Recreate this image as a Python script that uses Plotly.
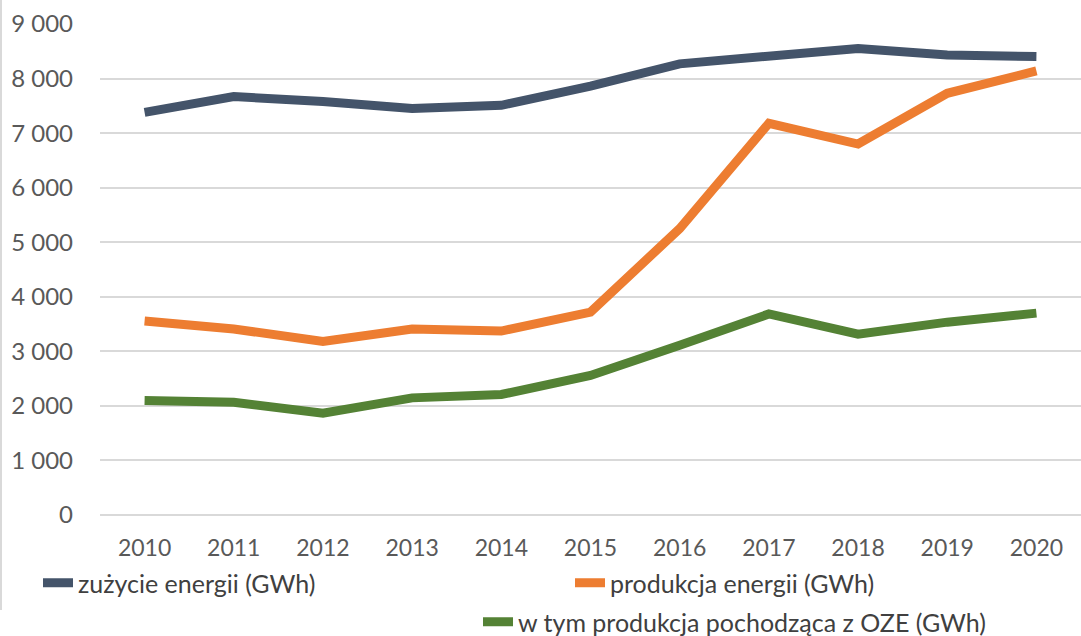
import plotly.graph_objects as go

years = ["2010", "2011", "2012", "2013", "2014", "2015", "2016", "2017", "2018", "2019", "2020"]
zuzycie = [7380, 7670, 7580, 7450, 7510, 7860, 8270, 8390, 8550, 8430, 8405]
produkcja = [3555, 3410, 3180, 3410, 3372, 3720, 5250, 7180, 6800, 7730, 8140]
oze = [2098, 2065, 1865, 2147, 2209, 2558, 3110, 3685, 3315, 3535, 3700]

names = ["zużycie energii (GWh)", "produkcja energii (GWh)", "w tym produkcja pochodząca z OZE (GWh)"]
colors = ["#44546A", "#ED7D31", "#548235"]
series = [zuzycie, produkcja, oze]
legends = ["legend", "legend2", "legend3"]

fig = go.Figure()
for s, n, c, lg in zip(series, names, colors, legends):
    fig.add_trace(go.Scatter(x=years, y=s, name=n, mode="lines", showlegend=True,
                             line=dict(color=c, width=9), legend=lg))

W, H = 1081, 636
ml, mr, mt, mb = 100, 0, 24, 121
pw = W - ml - mr
ph = H - mt - mb

def px_x(x):
    return (x - ml) / pw

def px_y(y):
    return (H - mb - y) / ph

legfont = dict(family="Lato", size=25, color="#404040")
def leg(x, y):
    return dict(x=px_x(x), y=px_y(y), xanchor="left", yanchor="middle",
                orientation="h", font=legfont, bgcolor="rgba(0,0,0,0)",
                itemwidth=30)

fig.update_layout(
    width=W, height=H,
    showlegend=True,
    margin=dict(l=ml, r=mr, t=mt, b=mb, autoexpand=False),
    paper_bgcolor="white", plot_bgcolor="white",
    font=dict(family="Lato", color="#595959"),
    legend=leg(38, 583),
    legend2=leg(570, 583),
    legend3=leg(478, 622),
    xaxis=dict(type="category", range=[-0.5, 10.5], showgrid=False,
               showline=False, ticks="", tickfont=dict(size=23, color="#595959"),
               ticklabelstandoff=17, automargin=False),
    yaxis=dict(range=[0, 9000], tickvals=list(range(0, 9001, 1000)),
               ticktext=["0", "1 000", "2 000", "3 000", "4 000", "5 000",
                         "6 000", "7 000", "8 000", "9 000"],
               showgrid=True, gridcolor="#D9D9D9", gridwidth=1.5,
               zeroline=True, zerolinecolor="#D9D9D9", zerolinewidth=1.5,
               showline=False, ticks="", tickfont=dict(size=24, color="#595959"),
               ticklabelstandoff=26, automargin=False),
    shapes=[dict(type="line", xref="paper", yref="paper",
                 x0=px_x(1), x1=px_x(1), y0=px_y(0), y1=px_y(610),
                 line=dict(color="#D9D9D9", width=2))],
)

fig.write_html("out.html", config={"displayModeBar": False},
               post_script="document.body.style.margin='0';")
